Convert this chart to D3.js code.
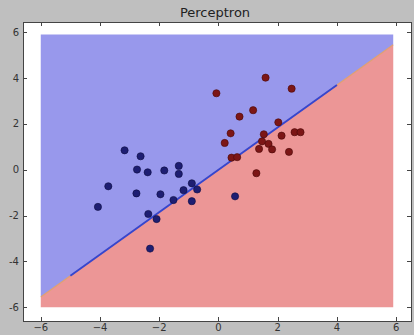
<!DOCTYPE html>
<html>
<head>
<meta charset="utf-8">
<script src="https://cdn.jsdelivr.net/npm/d3@7"></script>
<style>
  html, body { margin: 0; padding: 0; background: #bfbfbf; }
  svg { display: block; font-family: "DejaVu Sans", sans-serif; }
</style>
</head>
<body>
<svg></svg>
<script>
let width = 414;
let height = 335;

// class 0 (blue) points
let blueX = [-3.17, -2.63, -2.75, -2.39, -1.83, -1.34, -1.34, -3.72, -2.77, -1.96,
  -0.90, -1.18, -0.72, -1.52, -0.90, -4.07, -2.37, -2.09, -2.31, 0.56];
let blueY = [0.85, 0.59, 0.01, -0.11, -0.03, 0.17, -0.18, -0.72, -1.03, -1.07,
  -0.59, -0.89, -0.86, -1.32, -1.37, -1.62, -1.93, -2.15, -3.44, -1.16];

// class 1 (red) points
let redX = [1.59, -0.07, 2.47, 1.17, 0.71, 2.02, 0.41, 1.53, 0.21, 2.13,
  2.57, 2.77, 1.47, 1.69, 1.37, 1.81, 2.38, 0.44, 0.63, 1.28];
let redY = [4.02, 3.34, 3.54, 2.60, 2.32, 2.07, 1.59, 1.55, 1.17, 1.49,
  1.64, 1.64, 1.24, 1.13, 0.91, 0.89, 0.78, 0.53, 0.55, -0.15];

// decision boundary y = slope * x + intercept, grid range and plotted line range
let slope = 0.925;
let intercept = 0;
let gridRange = [-6, 5.9];
let lineRange = [-5, 4];

let xTicks = [-6, -4, -2, 0, 2, 4, 6];
let yTicks = [-6, -4, -2, 0, 2, 4, 6];

let svg = d3.select('svg').attr('width', width).attr('height', height);

let xScale = d3.scaleLinear().domain([-6.6, 6.5]).range([23, 411]);
let yScale = d3.scaleLinear().domain([-6.6, 6.45]).range([321, 22]);

let bound = x => slope * x + intercept;

// plot area
svg.append('rect').
attr('x', xScale.range()[0]).
attr('y', yScale.range()[1]).
attr('width', xScale.range()[1] - xScale.range()[0]).
attr('height', yScale.range()[0] - yScale.range()[1]).
attr('fill', '#ffffff');

// decision regions
let g0 = gridRange[0];
let g1 = gridRange[1];
let line = d3.line().x(d => xScale(d[0])).y(d => yScale(d[1]));

svg.append('path').
attr('d', line([[g0, g1], [g1, g1], [g1, bound(g1)], [g0, bound(g0)]]) + 'Z').
attr('fill', '#9898ec');

svg.append('path').
attr('d', line([[g0, bound(g0)], [g1, bound(g1)], [g1, g0], [g0, g0]]) + 'Z').
attr('fill', '#ec9696');

// contour edge
svg.append('path').
attr('d', line([[g0, bound(g0)], [g1, bound(g1)]])).
attr('stroke', '#e0a070').
attr('stroke-width', 1.2).
attr('fill', 'none');

// perceptron line
svg.append('path').
attr('d', line([[lineRange[0], bound(lineRange[0])], [lineRange[1], bound(lineRange[1])]])).
attr('stroke', '#3545d0').
attr('stroke-width', 1.9).
attr('fill', 'none');

let drawPoints = (xs, ys, fill, stroke) => {
  svg.append('g').
  selectAll('circle').
  data(xs.map((x, i) => [x, ys[i]])).
  enter().
  append('circle').
  attr('cx', d => xScale(d[0])).
  attr('cy', d => yScale(d[1])).
  attr('r', 3.6).
  attr('fill', fill).
  attr('stroke', stroke).
  attr('stroke-width', 0.6);
};

drawPoints(blueX, blueY, '#1e1e72', '#0c0c40');
drawPoints(redX, redY, '#7c1616', '#4a0808');

// frame
let x0 = xScale.range()[0];
let x1 = xScale.range()[1];
let y0 = yScale.range()[1];
let y1 = yScale.range()[0];

svg.append('rect').
attr('x', x0 + 0.5).
attr('y', y0 + 0.5).
attr('width', x1 - x0).
attr('height', y1 - y0).
attr('fill', 'none').
attr('stroke', '#444').
attr('stroke-width', 1);

// inward ticks on all sides
let tickLen = 4;
let ticks = svg.append('g').attr('stroke', '#444').attr('stroke-width', 1);

xTicks.forEach(t => {
  let px = Math.round(xScale(t)) + 0.5;
  ticks.append('line').attr('x1', px).attr('x2', px).attr('y1', y1).attr('y2', y1 - tickLen);
  ticks.append('line').attr('x1', px).attr('x2', px).attr('y1', y0).attr('y2', y0 + tickLen);
});

yTicks.forEach(t => {
  let py = Math.round(yScale(t)) + 0.5;
  ticks.append('line').attr('x1', x0).attr('x2', x0 + tickLen).attr('y1', py).attr('y2', py);
  ticks.append('line').attr('x1', x1).attr('x2', x1 - tickLen).attr('y1', py).attr('y2', py);
});

// tick labels
let fmt = t => t < 0 ? '\u2212' + Math.abs(t) : String(t);

svg.append('g').
selectAll('text').
data(xTicks).
enter().
append('text').
attr('x', d => xScale(d)).
attr('y', 331).
attr('text-anchor', 'middle').
attr('font-size', 10).
attr('fill', '#333').
text(fmt);

svg.append('g').
selectAll('text').
data(yTicks).
enter().
append('text').
attr('x', 19).
attr('y', d => yScale(d)).
attr('dy', '0.35em').
attr('text-anchor', 'end').
attr('font-size', 10).
attr('fill', '#333').
text(d => d < 0 ? '-' + Math.abs(d) : String(d));

// title
svg.append('text').
attr('x', 215).
attr('y', 17).
attr('text-anchor', 'middle').
attr('font-size', 13).
attr('fill', '#222').
text('Perceptron');
</script>
</body>
</html>
